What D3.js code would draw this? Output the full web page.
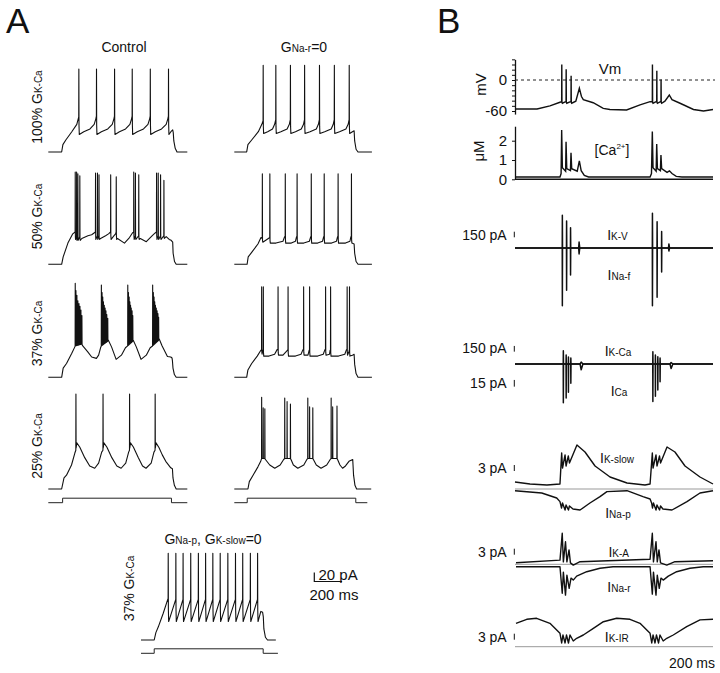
<!DOCTYPE html>
<meta charset="utf-8">
<script src="https://d3js.org/d3.v7.min.js"></script>
<style>
body { margin: 0; background: #fff; }
text { font-family: "Liberation Sans", Arial, Helvetica, sans-serif; fill: #111; }
</style>
<body>
<div id="fig"></div>
<script>
// ---------- Panel A: time (ms) vs membrane potential (mV) ----------
// envelopes are the subthreshold path, spikes are [time, peak] (optional 3rd = width in ms)
var ctl100Env = [[0,-70],[96,-70],[105,-62],[126,-57],[169,-48],[205,-40],[219,-32],
  [223,-51],[255,-48],[300,-45],[330,-40],[342,-34],[346,-31],
  [350,-51],[382,-48],[428,-45],[460,-40],[472,-34],[476,-31],
  [480,-51],[512,-48],[556,-45],[587,-40],[599,-34],[603,-31],
  [607,-51],[640,-48],[685,-45],[717,-40],[729,-34],[733,-31],
  [737,-51],[770,-48],[815,-45],[848,-40],[860,-34],[864,-31],
  [868,-51],[882,-48],[895,-46],[899,-49],[903,-58],[913,-66],[926,-70],[1000,-70]];
var ctl100Spk = [[219,20],[346,20],[476,20],[603,20],[733,20],[864,20]];

var gnr100Env = [[0,-70],[89,-70],[98,-62],[125,-57],[173,-48],[198,-40],[207,-36],
  [211,-50],[240,-48],[275,-45],[290,-40],[298,-35],
  [302,-50],[335,-48],[380,-45],[396,-40],[403,-35],
  [407,-50],[440,-48],[482,-45],[498,-40],[505,-35],
  [509,-50],[545,-48],[590,-45],[605,-40],[612,-35],
  [616,-50],[650,-48],[697,-45],[712,-40],[719,-35],
  [723,-50],[757,-48],[803,-45],[819,-40],[826,-35],
  [830,-50],[850,-48],[862,-47],[866,-58],[876,-67],[890,-70],[990,-70]];
var gnr100Spk = [[207,24],[298,24],[403,24],[505,24],[612,24],[719,24],[826,24]];

var ctl50Env = [[0,-70],[96,-70],[107,-62],[141,-47],[176,-37],[193,-35],
  [196,-43],[203,-40],[206,-44],[212,-40],[215,-44],[226,-40],[230,-44],[241,-42],[285,-39],[312,-38],[339,-35],
  [342,-43],[353,-39],[356,-43],[364,-39],[368,-43],[376,-42],[412,-39],[433,-37],[448,-35],
  [452,-43],[473,-39],[484,-37],[488,-35],
  [492,-43],[498,-42],[548,-47],[584,-41],[605,-36],[614,-35],
  [618,-43],[626,-39],[630,-43],[650,-39],[654,-43],[662,-42],[705,-45.5],[748,-39],[769,-36],[778,-35],
  [782,-43],[790,-39],[794,-43],[807,-39],[811,-43],[831,-39],[835,-42],[848,-40],[870,-43],[884,-44],
  [895,-46],[898,-58],[908,-67],[920,-70],[1000,-70]];
var ctl50Spk = [[193,30],[203,30],[212,28],[226,26],[339,29],[353,29],[364,27],[448,27],[488,25],
  [614,30],[626,29],[650,27],[778,29],[790,29],[807,27],[831,21]];

var gnr50Env = [[0,-70],[92,-70],[100,-62],[125,-57],[170,-48],[192,-41],[201,-42],
  [205,-46],[245,-42],[255,-41],
  [259,-47],[300,-47],[350,-45],[362,-40],[366,-40],
  [370,-47],[410,-47],[440,-45],[448,-40],[451,-40],
  [455,-47],[500,-47],[540,-45],[550,-40],[553,-40],
  [557,-47],[600,-47],[635,-45],[643,-40],[646,-40],
  [650,-47],[700,-47],[735,-45],[743,-40],[746,-40],
  [750,-47],[800,-47],[832,-45],[839,-40],[842,-40],
  [846,-47],[862,-48],[866,-58],[876,-67],[890,-70],[990,-70]];
var gnr50Spk = [[201,28],[255,28],[366,28],[451,28],[553,28],[646,28],[746,28],[842,28]];

var ctl37Env = [[0,-70],[96,-70],[107,-60],[131,-55],[169,-44],[191,-37],[193,-36],[241,-34],
  [248,-36],[284,-42.5],[312,-48],[346,-49.5],[362,-46],[376,-38],[381,-36],[427,-31],
  [433,-30],[455,-37],[488,-50.5],[526,-46],[555,-38],[571,-36],[607,-31],
  [612,-30],[633,-37],[667,-50.5],[705,-46],[733,-38],[750,-36],[793,-30],
  [798,-28.5],[819,-36],[857,-47.5],[881,-48],[890,-49],[893,-52],[897,-60],[907,-67],[920,-70],[1000,-70]];
var ctl37Spk = [[193,32],[198,24],[205,19],[212,13],[220,10],[227,7],[234,3],[241,-3],
  [381,30],[386,22],[391,17],[396,12],[402,8],[408,5],[414,2],[420,-2],[427,-6],
  [571,30],[576,22],[581,17],[586,12],[591,8],[596,5],[602,2],[607,-3],
  [750,30],[755,22],[760,17],[765,12],[770,8],[776,5],[782,2],[788,-1],[793,-5]];

var gnr37Env = [[0,-70],[89,-70],[98,-62],[125,-55],[165,-47],[190,-41],[196,-40],
  [200,-45],[204,-41],[208,-40],
  [212,-47],[250,-47],[290,-45],[308,-40],[314,-40],
  [318,-46],[350,-46],[380,-41],[386,-40],
  [390,-47],[440,-47],[480,-45],[494,-40],[498,-40],
  [502,-46],[530,-46],[538,-41],[541,-40],
  [545,-47],[600,-47],[640,-45],[652,-40],[656,-40],
  [660,-46],[685,-45],[689,-41],[692,-40],
  [696,-47],[750,-47],[795,-45],[807,-40],[811,-40],
  [815,-46],[825,-42],[828,-40],
  [832,-47],[850,-46],[862,-45],[866,-56],[876,-66],[890,-70],[990,-70]];
var gnr37Spk = [[196,28],[208,28],[314,28],[386,28],[498,28],[541,28],[656,28],[692,28],[811,28],[828,28]];

var ctl25Env = [[0,-70],[96,-70],[113,-58],[131,-55],[167,-44],[191,-31],[198,-28],
  [205,-20],[226,-24.5],[262,-36],[298,-45],[334,-47.5],[362,-42],[384,-30],[393,-28],
  [400,-20],[421,-24.5],[457,-36],[493,-45],[524,-47.5],[557,-42],[578,-30],[584,-28],
  [591,-20],[612,-24.5],[648,-36],[678,-45],[703,-47.5],[740,-42],[760,-30],[768,-28],
  [775,-20],[796,-25],[820,-33],[845,-40],[881,-47],[893,-48],[897,-58],[907,-66],[920,-70],[1000,-70]];
var ctl25Spk = [[198,33],[393,33],[584,33],[768,33]];

var gnr25Env = [[0,-70],[98,-70],[108,-62],[135,-55],[170,-46],[190,-40],[196,-37],
  [219,-37],[224,-38],[255,-44],[291,-47.5],[330,-44],[355,-38],[362,-37],
  [403,-37],[408,-38],[425,-44],[457,-47.5],[500,-44],[522,-38],[528,-37],
  [564,-37],[569,-38],[590,-44],[624,-47.5],[665,-44],[690,-38],[696,-37],
  [738,-37],[743,-38],[760,-44],[779,-47.5],[800,-45],[825,-40],[852,-38],[858,-55],[868,-66],[880,-70],[985,-70]];
var gnr25Spk = [[196,29.5],[207,18],[219,17],[362,28.7],[379,24.7],[403,22],
  [528,28.7],[541,19],[564,18],[696,28.7],[707,19],[738,20]];

var noSlowEnv = [[0,-70],[95,-70],[107,-62],[124,-56],[160,-41],[186,-29],[195,-25],
  [199,-50],[250,-26],[254,-50],[302,-26],[306,-50],[357,-26],[361,-50],[412,-26],[416,-50],
  [464,-26],[468,-50],[516,-26],[520,-50],[569,-26],[573,-50],[624,-26],[628,-50],
  [679,-26],[683,-50],[731,-26],[735,-50],[786,-26],[790,-50],[838,-26],[842,-50],
  [862,-39],[875,-40],[880,-45],[884,-58],[895,-67],[910,-70],[970,-70]];
var noSlowSpk = [[195,24],[250,24],[302,24],[357,24],[412,24],[464,24],[516,24],[569,24],
  [624,24],[679,24],[731,24],[786,24],[838,24]];

// injected current steps (pA)
var stepCtl25 = [[0,0],[103,0],[103,10],[886,10],[886,0],[1000,0]];
var stepGnr25 = [[0,0],[93,0],[93,10],[874,10],[874,0],[957,0]];
var stepNoSlow = [[0,0],[95,0],[95,10],[879,10],[879,0],[985,0]];

// ---------- Panel B: time (ms) ----------
var vmEnv = [[0,-56],[156,-56],[247,-50],[318,-43],[330,-42],[335,-45],[358,-42],[361,-42],[366,-45],
  [392,-42],[396,-42],[401,-45],[430,-41],[455,-16],[470,-32],[483,-38],[553,-44],[624,-55],
  [671,-57],[789,-58],[884,-48],[955,-42],[971,-42],[976,-45],[998,-42],[1002,-42],[1007,-45],
  [1028,-42],[1032,-42],[1037,-45],[1060,-41],[1091,-29],[1110,-38],[1167,-45],[1262,-57],
  [1333,-60],[1400,-57]];
var vmSpk = [[330,30],[361,21],[396,8],[971,30],[1002,18],[1032,1]];

var caTrace = [[0,0.12],[318,0.12],[326,0.3],[330,2.55],[335,0.6],[358,0.42],[361,1.95],[366,0.55],
  [392,0.45],[396,1.38],[401,0.55],[440,0.42],[455,0.96],[468,0.45],[490,0.2],[520,0.12],
  [955,0.12],[965,0.3],[971,2.47],[976,0.6],[998,0.42],[1002,1.83],[1007,0.55],[1028,0.45],
  [1032,1.26],[1037,0.55],[1075,0.36],[1092,0.44],[1110,0.3],[1140,0.15],[1180,0.12],[1400,0.12]];

var ikvSpk = [[334,880],[364,720],[392,540],[450,160,8],[971,930],[1004,700],[1036,440],[1085,110,8]];
var inafSpk = [[334,-1550],[364,-1130],[392,-720],[450,-160,8],[971,-1550],[1004,-1320],[1036,-640],[1085,-80,8]];
var ikcaSpk = [[341,350],[361,237],[377,184],[394,158],[460,50,20],[974,324],[992,237],[1009,192],[1025,158],[1096,40,20]];
var icaSpk = [[341,-87],[361,-76],[377,-63],[394,-43],[460,-13,20],[974,-84],[992,-72],[1009,-58],[1025,-40],[1096,-10,20]];

var ikSlow = [[0,3.5],[106,2.5],[226,2],[318,2.5],[330,18],[336,10.5],[354,17],[361,11.5],[377,16.5],
  [385,13],[438,22],[495,18.5],[566,11.5],[672,6],[792,3],[919,2],[955,2.5],[971,18],[976,10.5],
  [997,17],[1004,11.5],[1022,16.5],[1029,13],[1075,21],[1131,18.5],[1202,11.5],[1308,6],[1400,2.5]];
var inaP = [[0,-0.85],[189,-2],[295,-4.5],[318,-6.3],[329,-9.5],[336,-7],[354,-10.5],[361,-8],[378,-10.5],
  [385,-8.5],[410,-10],[460,-10.5],[530,-7],[601,-3.8],[650,-1.3],[792,-0.85],[905,-3.8],[955,-5],
  [966,-7],[972,-9.5],[979,-7],[997,-10.5],[1004,-8],[1022,-10.5],[1029,-8.5],[1046,-10],[1110,-10.5],
  [1216,-6.3],[1308,-2],[1400,-0.85]];
var ikA = [[7,0.8],[318,2.1],[334,15.5],[342,1.2],[357,11.3],[367,1.2],[382,7.2],[392,0.7],[412,-0.4],
  [460,1.3],[955,2.5],[971,15.5],[979,1.2],[997,11.3],[1006,1.2],[1018,7.2],[1029,0.7],[1073,-0.4],
  [1131,1.3],[1400,1.8]];
var inaR = [[7,-1.2],[318,-1.2],[334,-14.5],[342,-3.9],[357,-15.4],[367,-5.4],[383,-12],[396,-6.9],
  [412,-7.9],[436,-5.9],[507,-3.7],[601,-2],[693,-1.2],[955,-1.2],[971,-14.9],[979,-3.9],[997,-15.4],
  [1006,-5.4],[1020,-12],[1032,-6.9],[1048,-7.9],[1084,-5.9],[1143,-3.7],[1237,-2],[1331,-1.2],[1400,-1.2]];
var ikIR = [[7,11.7],[83,13.7],[153,14.2],[247,11.7],[318,6.7],[330,1.85],[339,5.85],[354,1.85],[364,5.85],
  [378,1.85],[389,5.85],[412,2.85],[436,4.2],[483,5.85],[554,9.2],[625,12.5],[719,14.2],[813,13.7],
  [884,11.7],[955,6.7],[967,1.85],[976,5.85],[990,1.85],[1000,5.85],[1015,1.85],[1025,5.85],[1048,2.85],
  [1073,4.2],[1119,5.85],[1214,10],[1308,13.4],[1400,13.7]];

// ---------- drawing ----------
var svg = d3.select("#fig").append("svg")
  .attr("width", 720).attr("height", 673)
  .style("background", "#fff");

function addSpikes(env, spikes) {
  var bis = d3.bisector(function (d) { return d[0]; }).right;
  function at(t) {
    var i = bis(env, t);
    if (i <= 0) return env[0][1];
    if (i >= env.length) return env[env.length - 1][1];
    var a = env[i - 1], b = env[i];
    return a[1] + (b[1] - a[1]) * (t - a[0]) / (b[0] - a[0]);
  }
  var pts = env.slice();
  spikes.forEach(function (s) {
    var w = s[2] || 2;
    pts.push([s[0], at(s[0])], [s[0] + w * 0.4, s[1]], [s[0] + w, at(s[0] + w)]);
  });
  pts.sort(function (a, b) { return a[0] - b[0]; });
  return pts;
}

function rich(x, y, parts, opt) {
  opt = opt || {};
  var t = svg.append("text").attr("x", x).attr("y", y)
    .attr("text-anchor", opt.anchor || "middle")
    .attr("font-size", opt.size || 14);
  if (opt.rotate) t.attr("transform", "rotate(-90," + x + "," + y + ")");
  parts.forEach(function (p) {
    var s = t.append("tspan").text(p[0]);
    if (p[1]) s.attr("font-size", p[1]);
    if (p[2]) s.attr("dy", p[2]);
  });
  return t;
}

// panel A scales
var xA = d3.scaleLinear().domain([0, 1000]).range([0, 139]);
var yA = d3.scaleLinear().domain([-70, 20]).range([0, -83]);
var yI = d3.scaleLinear().domain([0, 20]).range([0, -9]);

var lineA = d3.line().x(function (d) { return xA(d[0]); }).y(function (d) { return yA(d[1]); });
var lineI = d3.line().x(function (d) { return xA(d[0]); }).y(function (d) { return yI(d[1]); });

var tracesA = [
  {env: ctl100Env, spk: ctl100Spk, x: 48.3, y: 152},
  {env: gnr100Env, spk: gnr100Spk, x: 234.3, y: 152},
  {env: ctl50Env, spk: ctl50Spk, x: 48.3, y: 264.3},
  {env: gnr50Env, spk: gnr50Spk, x: 234.3, y: 264.3},
  {env: ctl37Env, spk: ctl37Spk, x: 48.3, y: 377.3},
  {env: gnr37Env, spk: gnr37Spk, x: 234.3, y: 377.3},
  {env: ctl25Env, spk: ctl25Spk, x: 48.3, y: 489},
  {env: gnr25Env, spk: gnr25Spk, x: 234.3, y: 489},
  {env: noSlowEnv, spk: noSlowSpk, x: 141, y: 640}
];
tracesA.forEach(function (tr) {
  svg.append("path")
    .attr("transform", "translate(" + tr.x + "," + tr.y + ")")
    .attr("d", lineA(addSpikes(tr.env, tr.spk)))
    .attr("fill", "none").attr("stroke", "#111").attr("stroke-width", 1.1)
    .attr("stroke-linejoin", "round");
});
[{d: stepCtl25, x: 48.3, y: 502.7}, {d: stepGnr25, x: 234.3, y: 502.7}, {d: stepNoSlow, x: 141, y: 653.3}]
  .forEach(function (s) {
    svg.append("path")
      .attr("transform", "translate(" + s.x + "," + s.y + ")")
      .attr("d", lineI(s.d))
      .attr("fill", "none").attr("stroke", "#222").attr("stroke-width", 1);
  });

// scale bar 20 pA / 200 ms
var sb = svg.append("g").attr("transform", "translate(314.3,581.5)");
sb.append("path")
  .attr("d", "M0," + yI(20) + "V0H" + xA(200))
  .attr("fill", "none").attr("stroke", "#111").attr("stroke-width", 1.2);
rich(318.5, 579.5, [["20 pA"]], {anchor: "start", size: 15});
rich(334, 600, [["200 ms"]], {size: 15});

// panel A text
rich(6, 33, [["A"]], {anchor: "start", size: 35});
rich(124, 52, [["Control"]]);
rich(304, 52, [["G"], ["Na-r", 10], ["=0"]]);
rich(213, 544, [["G"], ["Na-p", 10], [", G"], ["K-slow", 10], ["=0"]]);
[["100%", 107], ["50%", 216.5], ["37%", 333.5], ["25%", 446]].forEach(function (r) {
  rich(41.5, r[1], [[r[0] + " G"], ["K-Ca", 10]], {rotate: true});
});
rich(133.5, 588.5, [["37% G"], ["K-Ca", 10]], {rotate: true});

// ---------- panel B ----------
rich(437, 33, [["B"]], {anchor: "start", size: 35});
var xB = d3.scaleLinear().domain([0, 1400]).range([515, 713]);

// Vm
var yVm = d3.scaleLinear().domain([-60, 0]).range([111, 80]);
var yVmAxis = d3.scaleLinear().domain([-66, 40]).range([yVm(-66), yVm(40)]);
var gVm = svg.append("g").attr("transform", "translate(515,0)")
  .call(d3.axisLeft(yVmAxis).tickValues(d3.range(-60, 41, 10)).tickSize(3).tickSizeOuter(0)
    .tickFormat(function (d) { return d === 0 || d === -60 ? d : ""; }));
svg.append("line").attr("x1", 515).attr("x2", 715).attr("y1", yVm(0)).attr("y2", yVm(0))
  .attr("stroke", "#222").attr("stroke-width", 1).attr("stroke-dasharray", "3,3");
var lineVm = d3.line().x(function (d) { return xB(d[0]); }).y(function (d) { return yVm(d[1]); });
svg.append("path").attr("d", lineVm(addSpikes(vmEnv, vmSpk)))
  .attr("fill", "none").attr("stroke", "#111").attr("stroke-width", 1.4);
rich(486, 84.5, [["mV"]], {rotate: true, size: 15});
rich(610, 74, [["Vm"]], {size: 15});

// Ca
var yCa = d3.scaleLinear().domain([0, 2]).range([179.3, 140.7]);
var gCa = svg.append("g").attr("transform", "translate(515,0)")
  .call(d3.axisLeft(d3.scaleLinear().domain([0, 2.75]).range([yCa(0), yCa(2.75)]))
    .tickValues([0, 1, 2]).tickSize(3).tickSizeOuter(0).tickFormat(d3.format("d")));
svg.append("line").attr("x1", 515).attr("x2", 713).attr("y1", yCa(0)).attr("y2", yCa(0))
  .attr("stroke", "#111").attr("stroke-width", 1.5);
var lineCa = d3.line().x(function (d) { return xB(d[0]); }).y(function (d) { return yCa(d[1]); });
svg.append("path").attr("d", lineCa(caTrace))
  .attr("fill", "none").attr("stroke", "#111").attr("stroke-width", 1.4);
rich(484, 151, [["\u03bcM"]], {rotate: true, size: 15});
rich(612, 155, [["[Ca"], ["2+", 8, -6], ["]", 14, 6]], {size: 14});

[gVm, gCa].forEach(function (g) {
  g.attr("font-family", null).attr("font-size", 15);
  g.selectAll("path.domain").attr("stroke", "#111").attr("stroke-width", 1.3);
  g.selectAll(".tick line").attr("stroke", "#111");
  g.selectAll(".tick text").attr("fill", "#111").attr("x", -8);
});

// current traces
var flat = [[0, 0], [1400, 0]];
function drawCur(pts, y, width, color) {
  svg.append("path")
    .attr("d", d3.line().x(function (d) { return xB(d[0]); }).y(function (d) { return y(d[1]); })(pts))
    .attr("fill", "none").attr("stroke", color || "#111").attr("stroke-width", width || 1.5)
    .attr("stroke-linejoin", "round");
}
function scaleTick(y, val, yc) {
  var h = Math.abs(y(val) - y(0));
  svg.append("line").attr("x1", 514.3).attr("x2", 514.3)
    .attr("y1", yc - h / 2).attr("y2", yc + h / 2).attr("stroke", "#111").attr("stroke-width", 1);
}

var yKV = d3.scaleLinear().domain([0, 150]).range([248, 242.4]);
drawCur(addSpikes(flat, inafSpk), yKV);
drawCur(addSpikes(flat, ikvSpk), yKV);
rich(506.7, 239.5, [["150 pA"]], {anchor: "end"});
scaleTick(yKV, 150, 234.5);
rich(617.5, 240, [["I", 14], ["K-V", 10]]);
rich(619, 280, [["I", 14], ["Na-f", 10]]);

var yKCa = d3.scaleLinear().domain([0, 150]).range([364, 358.3]);
var yCaI = d3.scaleLinear().domain([0, 15]).range([364, 357.3]);
drawCur(addSpikes(flat, icaSpk), yCaI);
drawCur(addSpikes(flat, ikcaSpk), yKCa);
rich(506.7, 353.3, [["150 pA"]], {anchor: "end"});
scaleTick(yKCa, 150, 348.8);
rich(506.7, 388.3, [["15 pA"]], {anchor: "end"});
scaleTick(yCaI, 15, 383.3);
rich(618, 355.7, [["I", 14], ["K-Ca", 10]]);
rich(619, 396, [["I", 14], ["Ca", 10]]);

var ySlow = d3.scaleLinear().domain([0, 3]).range([489, 483]);
svg.append("line").attr("x1", 515).attr("x2", 713).attr("y1", ySlow(0)).attr("y2", ySlow(0))
  .attr("stroke", "#999").attr("stroke-width", 1);
drawCur(ikSlow, ySlow, 1.4);
drawCur(inaP, ySlow, 1.4);
rich(506.7, 473, [["3 pA"]], {anchor: "end"});
scaleTick(ySlow, 3, 468);
rich(617, 463, [["I", 14], ["K-slow", 10]]);
rich(618, 518, [["I", 14], ["Na-p", 10]]);

var yKA = d3.scaleLinear().domain([0, 3]).range([564.3, 558.3]);
svg.append("line").attr("x1", 515).attr("x2", 713).attr("y1", yKA(0)).attr("y2", yKA(0))
  .attr("stroke", "#999").attr("stroke-width", 1);
drawCur(ikA, yKA, 1.4);
drawCur(inaR, yKA, 1.4);
rich(506.7, 556.7, [["3 pA"]], {anchor: "end"});
scaleTick(yKA, 3, 551.7);
rich(618.7, 556.7, [["I", 14], ["K-A", 10]]);
rich(619, 591.7, [["I", 14], ["Na-r", 10]]);

var yIR = d3.scaleLinear().domain([0, 3]).range([646.7, 640.7]);
svg.append("line").attr("x1", 515).attr("x2", 713).attr("y1", yIR(0)).attr("y2", yIR(0))
  .attr("stroke", "#999").attr("stroke-width", 1);
drawCur(ikIR, yIR, 1.4);
rich(506.7, 641.7, [["3 pA"]], {anchor: "end"});
scaleTick(yIR, 3, 636.7);
rich(616.7, 641.7, [["I", 14], ["K-IR", 10]]);
rich(715, 668, [["200 ms"]], {anchor: "end"});
</script>
</body>
